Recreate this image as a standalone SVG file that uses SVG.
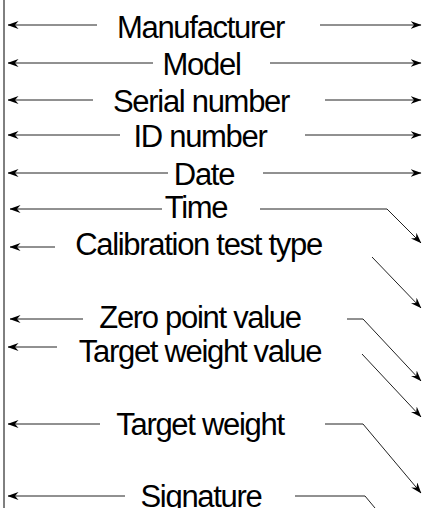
<svg xmlns="http://www.w3.org/2000/svg" width="423" height="508" viewBox="0 0 423 508">
<style>
.lbl{font-family:"Liberation Sans",Arial,Helvetica,sans-serif;font-size:31px;letter-spacing:-1.3px;fill:#000;text-anchor:middle}
.c{fill:none;stroke:#222;stroke-width:1}
</style>
<defs>
<marker id="ah" viewBox="0 0 11 8" refX="10.5" refY="4" markerWidth="11" markerHeight="8" markerUnits="userSpaceOnUse" orient="auto">
<path d="M0,0 L11,4 L0,8 L3.5,4 z" fill="#000"/>
</marker>
</defs>
<rect width="423" height="508" fill="#fff"/>
<line x1="4" y1="0" x2="4" y2="508" stroke="#000" stroke-width="1"/>
<g id="nodes">
<g id="manufacturer"><text class="lbl" x="200.5" y="37.5">Manufacturer</text></g>
<g id="model"><text class="lbl" x="201.5" y="74.5">Model</text></g>
<g id="serial"><text class="lbl" x="201" y="111.5">Serial number</text></g>
<g id="id-number"><text class="lbl" x="200" y="147">ID number</text></g>
<g id="date"><text class="lbl" x="204" y="185">Date</text></g>
<g id="time"><text class="lbl" x="196" y="218">Time</text></g>
<g id="calibration"><text class="lbl" x="198.5" y="254.5">Calibration test type</text></g>
<g id="zero"><text class="lbl" x="200" y="328">Zero point value</text></g>
<g id="twv"><text class="lbl" x="200" y="362">Target weight value</text></g>
<g id="tw"><text class="lbl" x="200" y="435">Target weight</text></g>
<g id="signature"><text class="lbl" x="201" y="507">Signature</text></g>
</g>
<g id="connectors" class="c" marker-end="url(#ah)">
<path d="M97,25 H8"/><path d="M320,25 H421"/>
<path d="M153,63 H8"/><path d="M270,63 H421"/>
<path d="M93,100 H8"/><path d="M325,100 H421"/>
<path d="M120,135 H8"/><path d="M305,135 H421"/>
<path d="M168,173 H8"/><path d="M263,173 H421"/>
<path d="M162,209 H10"/><path d="M260,209 H387 L421,243"/>
<path d="M55,247 H10"/><path d="M372,257 L421,308"/>
<path d="M83,319 H10"/><path d="M347,319 H363 L421,381"/>
<path d="M57,347 H8"/><path d="M362,354 L421,417"/>
<path d="M100,424 H8"/><path d="M325,424 H363 L421,493"/>
<path d="M125,496 H8"/><path d="M295,496 H365 L380,514" marker-end="none"/>
</g>
</svg>
